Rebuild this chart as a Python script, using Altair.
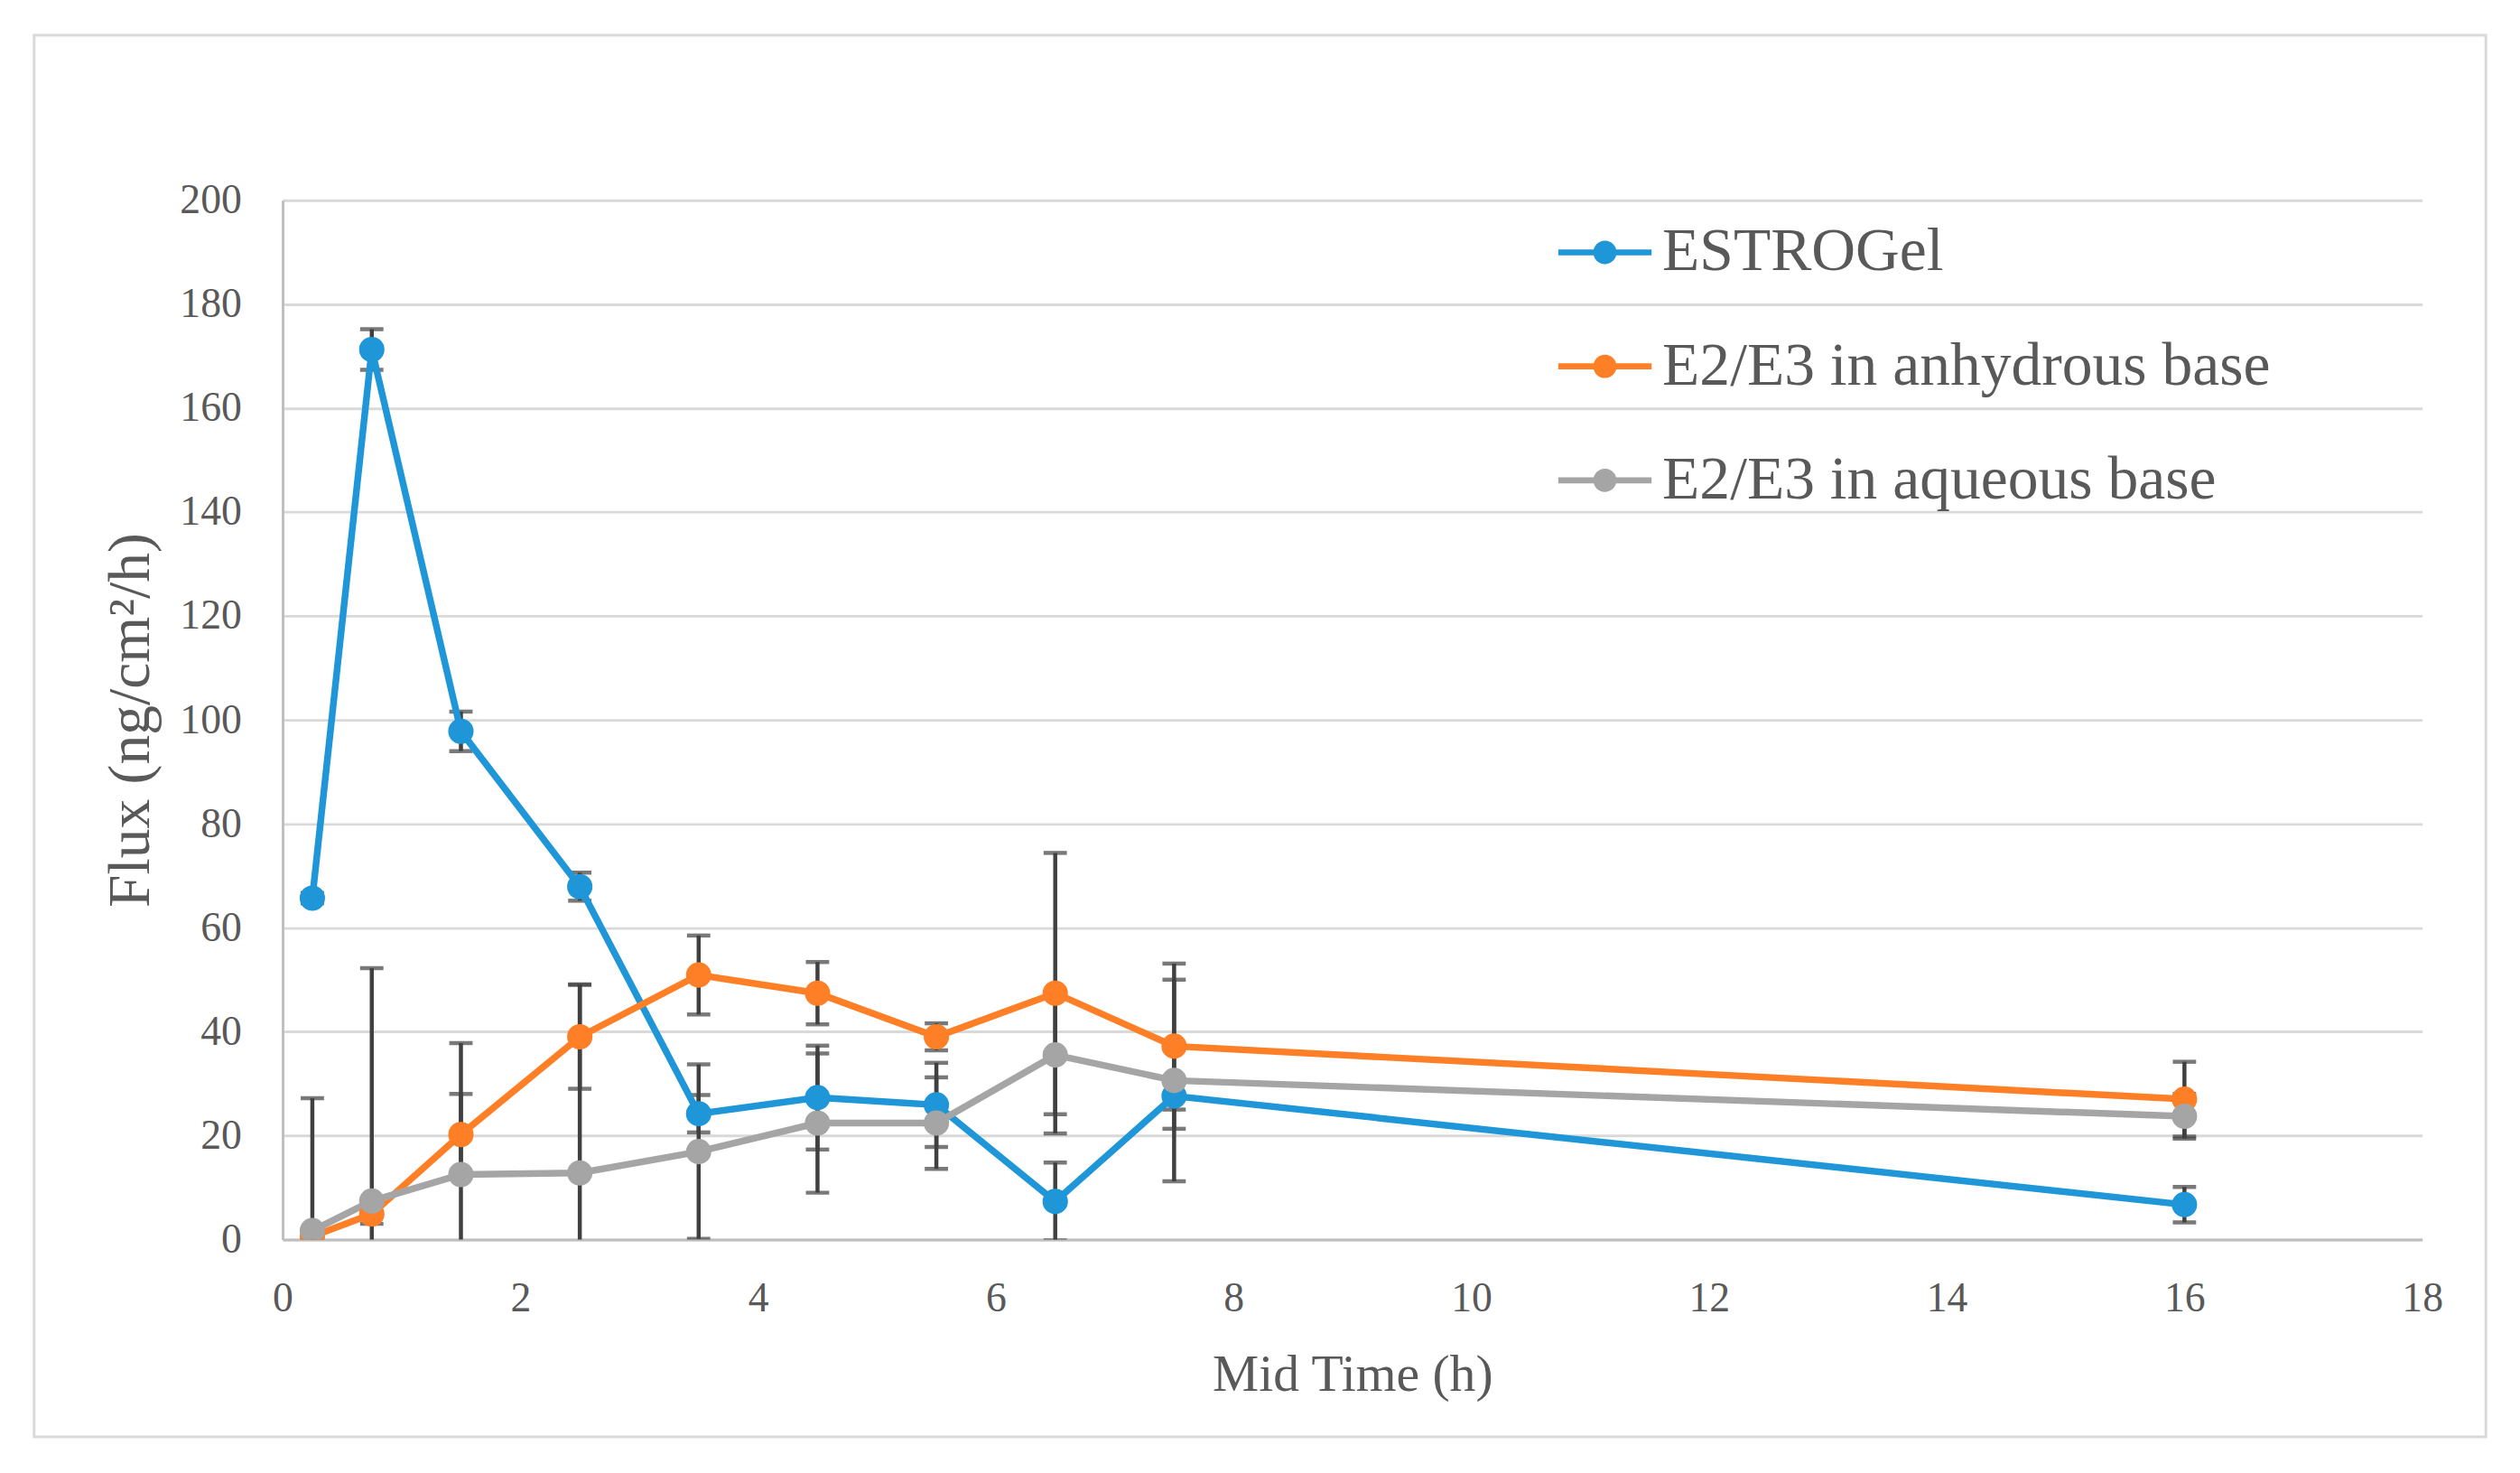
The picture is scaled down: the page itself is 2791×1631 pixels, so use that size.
import altair as alt
import pandas as pd

# ---- data ----
mid_time = [0.25, 0.75, 1.5, 2.5, 3.5, 4.5, 5.5, 6.5, 7.5, 16]
series_names = ["ESTROGel", "E2/E3 in anhydrous base", "E2/E3 in aqueous base"]
estrogel = [65.7, 171.3, 97.8, 67.9, 24.2, 27.3, 25.9, 7.3, 27.6, 6.7]
estrogel_err = [1.0, 3.9, 3.8, 2.7, 3.6, 10.0, 8.1, 7.5, 2.6, 3.4]
anhydrous = [0.6, 4.9, 20.2, 39.0, 50.9, 47.4, 39.0, 47.4, 37.2, 27.0]
anhydrous_err = [0.5, 1.9, 7.8, 10.0, 7.6, 6.0, 2.6, 27.0, 15.9, 7.2]
aqueous = [1.7, 7.4, 12.5, 12.8, 16.9, 22.4, 22.4, 35.5, 30.6, 23.7]
aqueous_err = [25.5, 44.8, 25.3, 36.3, 16.8, 13.4, 8.8, 11.4, 19.4, 4.3]
x_ticks = [0, 2, 4, 6, 8, 10, 12, 14, 16, 18]
y_ticks = [0, 20, 40, 60, 80, 100, 120, 140, 160, 180, 200]
colors = ["#1E96D8", "#FF7F27", "#A5A5A5"]

rows = []
for name, vals, errs in zip(series_names,
                            [estrogel, anhydrous, aqueous],
                            [estrogel_err, anhydrous_err, aqueous_err]):
    for t, v, e in zip(mid_time, vals, errs):
        rows.append({"series": name, "series_line": name, "t": t, "flux": v,
                     "lo": v - e, "hi": v + e})
df = pd.DataFrame(rows)

W, H = 2385, 1158
FONT = "Liberation Serif"
TXT = "#595959"

xs = alt.Scale(domain=[0, 18], nice=False)
ys = alt.Scale(domain=[0, 200], nice=False)
cscale = alt.Scale(domain=series_names, range=colors)

xenc = alt.X("t:Q", scale=xs, title="Mid Time (h)",
             axis=alt.Axis(values=x_ticks, format="d", labelFlush=False,
                           grid=False, ticks=False,
                           domainColor="#BFBFBF", domainWidth=3,
                           labelFontSize=46, labelColor=TXT, labelFont=FONT,
                           labelPadding=44, titleFontSize=58, titleFont=FONT,
                           titleColor=TXT, titleFontWeight="normal",
                           titlePadding=33))
yaxis = alt.Axis(values=y_ticks, format="d", ticks=False, grid=True,
                 gridColor="#D9D9D9", gridWidth=3,
                 domainColor="#BFBFBF", domainWidth=3,
                 labelFontSize=46, labelColor=TXT, labelFont=FONT,
                 labelPadding=46, titleFontSize=66, titleFont=FONT,
                 titleColor=TXT, titleFontWeight="normal", titlePadding=20)

base = alt.Chart(df)

err_rule = base.mark_rule(color="#404040", strokeWidth=4.5, clip=True).encode(
    x=xenc,
    y=alt.Y("lo:Q", scale=ys, title="Flux (ng/cm²/h)", axis=yaxis),
    y2="hi:Q",
)
cap_hi = base.mark_tick(color="#404040", thickness=4.5, size=26,
                        orient="horizontal", clip=True).encode(
    x="t:Q", y=alt.Y("hi:Q", scale=ys))
cap_lo = base.mark_tick(color="#404040", thickness=4.5, size=26,
                        orient="horizontal", clip=True).encode(
    x="t:Q", y=alt.Y("lo:Q", scale=ys))

lines = base.mark_line(strokeWidth=7.5, clip=True).encode(
    x="t:Q", y=alt.Y("flux:Q", scale=ys),
    stroke=alt.Stroke("series_line:N", scale=cscale, legend=None),
    detail="series_line:N",
)

legend_symbol = ("M-1,-0.065H1V0.065H-1Z "
                 "M-0.25,0A0.25,0.25 0 1,1 0.25,0A0.25,0.25 0 1,1 -0.25,0Z")
points = base.mark_point(filled=True, size=800, opacity=1, clip=True).encode(
    x="t:Q", y=alt.Y("flux:Q", scale=ys),
    fill=alt.Fill("series:N", scale=cscale,
                  legend=alt.Legend(title=None, orient="none",
                                    legendX=1422, legendY=6,
                                    symbolType=legend_symbol, symbolSize=10816,
                                    symbolStrokeWidth=0, symbolOpacity=1,
                                    labelFontSize=68, labelFont=FONT,
                                    labelColor=TXT, labelOffset=12,
                                    rowPadding=41, labelLimit=1200)),
)

frame = alt.Chart(pd.DataFrame({"a": [0]})).mark_rect(
    fill="transparent", stroke="#D9D9D9", strokeWidth=3, clip=False
).encode(x=alt.value(-277), x2=alt.value(W + 71),
         y=alt.value(-184), y2=alt.value(H + 220))

chart = alt.layer(frame, err_rule, cap_hi, cap_lo, lines, points).resolve_legend(
    fill="independent", stroke="independent"
).properties(
    width=W, height=H, background="white",
    padding={"left": 28, "top": 24, "right": 28, "bottom": 28},
).configure_view(stroke=None)

chart.save("out.html", embed_options={"renderer": "svg", "actions": False})
